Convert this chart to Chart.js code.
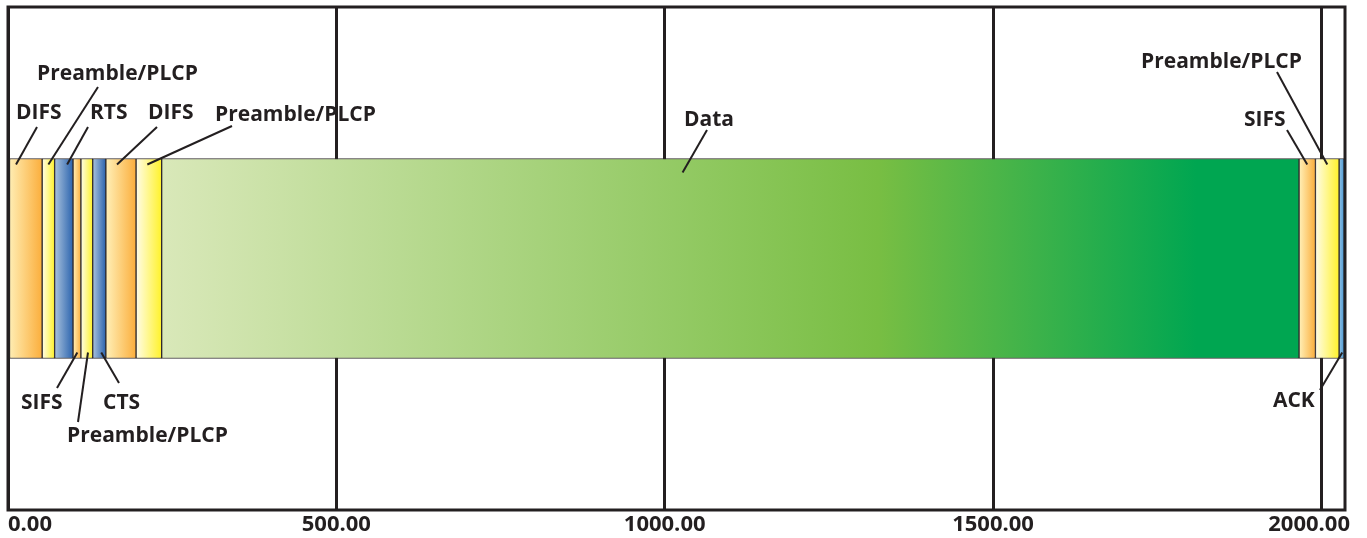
<!DOCTYPE html>
<html>
<head>
<meta charset="utf-8">
<script src="https://cdn.jsdelivr.net/npm/chart.js@4/dist/chart.umd.min.js"></script>
<style>
    body { margin: 0; background: #fff; }
</style>
</head>
<body>
<canvas id="timeline" width="1367" height="538"></canvas>
<script>
// Segments of the frame exchange, left to right (time in microseconds)
const segments = ['DIFS', 'Preamble/PLCP', 'RTS', 'SIFS', 'Preamble/PLCP', 'CTS',
                  'DIFS', 'Preamble/PLCP', 'Data', 'SIFS', 'Preamble/PLCP', 'ACK'];
const durations = [52, 19, 28, 12, 18, 20, 46, 39, 1732, 25, 36, 8];
const kinds = ['ifs', 'plcp', 'frame', 'ifs', 'plcp', 'frame',
               'ifs', 'plcp', 'data', 'ifs', 'plcp', 'ack'];
const tickValues = [0, 500, 1000, 1500, 2000];
const axisMin = 0;
const axisMax = 2036;

const ink = '#231f20';

// gradient stops per kind (left -> right inside each segment)
const fills = {
    ifs:   [[0, '#fff0b8'], [1, '#fbae3c']],
    plcp:  [[0, '#fffce8'], [1, '#fff22a']],
    frame: [[0, '#a9c2dd'], [1, '#2c64ae']],
    ack:   [[0, '#8fc0e4'], [1, '#4a98d2']],
    data:  [[0, '#d9e8b9'], [0.63, '#78be43'], [0.91, '#00a651'], [1, '#00a651']]
};

// callouts: segment index, which bar edge, end fraction inside segment,
// text left/middle position and the start of the leader line
const callouts = [
    { seg: 0,  side: 'top',    frac: 0.2,  tx: 16,   ty: 113, lx: 37,   ly: 127 },
    { seg: 1,  side: 'top',    frac: 0.5,  tx: 37,   ty: 74,  lx: 98,   ly: 87 },
    { seg: 2,  side: 'top',    frac: 0.68, tx: 90,   ty: 113, lx: 88,   ly: 127 },
    { seg: 6,  side: 'top',    frac: 0.37, tx: 148,  ty: 113, lx: 157,  ly: 127 },
    { seg: 7,  side: 'top',    frac: 0.44, tx: 215,  ty: 115, lx: 232,  ly: 126 },
    { seg: 8,  side: 'top',    frac: 0.458, tx: 684, ty: 120, lx: 707,  ly: 130, dy: 14 },
    { seg: 9,  side: 'top',    frac: 0.5,  tx: 1244, ty: 120, lx: 1287, ly: 130 },
    { seg: 10, side: 'top',    frac: 0.5,  tx: 1141, ty: 62,  lx: 1277, ly: 72 },
    { seg: 3,  side: 'bottom', frac: 0.55, tx: 21,   ty: 403, lx: 57,   ly: 388 },
    { seg: 5,  side: 'bottom', frac: 0.65, tx: 103,  ty: 403, lx: 119,  ly: 383 },
    { seg: 4,  side: 'bottom', frac: 0.6,  tx: 67,   ty: 436, lx: 78,   ly: 422 },
    { seg: 11, side: 'bottom', frac: 0.6,  tx: 1273, ty: 401, lx: 1320, ly: 390 }
];

const labelFont = 'bold 21px "Open Sans", "Noto Sans", sans-serif';
const tickFont = 'bold 22px "Open Sans", "Noto Sans", sans-serif';

function segmentFill(context) {
    const chart = context.chart;
    const i = context.datasetIndex;
    const stops = fills[kinds[i]];
    if (!chart.chartArea) return stops[stops.length - 1][1];
    const x = chart.scales.x;
    let start = 0;
    for (let k = 0; k < i; k++) start += durations[k];
    const x0 = x.getPixelForValue(start);
    const x1 = x.getPixelForValue(start + durations[i]);
    const g = chart.ctx.createLinearGradient(x0, 0, x1, 0);
    stops.forEach(s => g.addColorStop(s[0], s[1]));
    return g;
}

const datasets = segments.map((name, i) => ({
    label: name,
    data: [durations[i]],
    backgroundColor: segmentFill,
    borderColor: '#2f2a2b',
    borderWidth: 1,
    borderSkipped: false,
    barThickness: 200
}));

const framePlugin = {
    id: 'frame',
    afterDatasetsDraw(chart) {
        const a = chart.chartArea;
        const ctx = chart.ctx;
        ctx.save();
        ctx.strokeStyle = ink;
        ctx.lineWidth = 3;
        ctx.strokeRect(a.left, a.top, a.right - a.left, a.bottom - a.top);
        ctx.restore();
    }
};

const calloutPlugin = {
    id: 'callouts',
    afterDraw(chart) {
        const ctx = chart.ctx;
        const xs = chart.scales.x;
        const area = chart.chartArea;
        ctx.save();
        ctx.font = labelFont;
        ctx.fillStyle = ink;
        ctx.strokeStyle = ink;
        ctx.lineWidth = 2;
        ctx.textBaseline = 'middle';
        ctx.textAlign = 'left';
        callouts.forEach(c => {
            const bar = chart.getDatasetMeta(c.seg).data[0];
            const left = Math.min(bar.base, bar.x), right = Math.max(bar.base, bar.x);
            const ex = left + c.frac * (right - left);
            const ey = c.side === 'top' ? bar.y - bar.height / 2 + (c.dy || 6)
                                        : bar.y + bar.height / 2 - 6;
            ctx.beginPath();
            ctx.moveTo(c.lx, c.ly);
            ctx.lineTo(ex, ey);
            ctx.stroke();
            ctx.fillText(segments[c.seg], c.tx, c.ty);
        });

        // axis tick labels (first pinned left, last kept inside the frame)
        ctx.font = tickFont;
        const last = xs.ticks.length - 1;
        xs.ticks.forEach((t, idx) => {
            let px = xs.getPixelForValue(t.value);
            if (idx === 0) {
                ctx.textAlign = 'left';
                px = area.left;
            } else if (idx === last) {
                ctx.textAlign = 'right';
                px = area.right + 5;
            } else {
                ctx.textAlign = 'center';
            }
            ctx.fillText(t.value.toFixed(2), px, area.bottom + 15);
        });
        ctx.restore();
    }
};

new Chart(document.getElementById('timeline'), {
    type: 'bar',
    data: {
        labels: [''],
        datasets: datasets
    },
    options: {
        indexAxis: 'y',
        responsive: false,
        animation: false,
        layout: { padding: { left: 8, right: 22, top: 7, bottom: 28 } },
        plugins: {
            legend: { display: false },
            tooltip: { enabled: false }
        },
        scales: {
            x: {
                stacked: true,
                min: axisMin,
                max: axisMax,
                afterBuildTicks: scale => {
                    scale.ticks = tickValues.map(v => ({ value: v }));
                },
                ticks: { display: false },
                grid: { color: ink, lineWidth: 3, drawTicks: false },
                border: { display: false }
            },
            y: {
                stacked: true,
                display: false
            }
        }
    },
    plugins: [framePlugin, calloutPlugin]
});
</script>
</body>
</html>
